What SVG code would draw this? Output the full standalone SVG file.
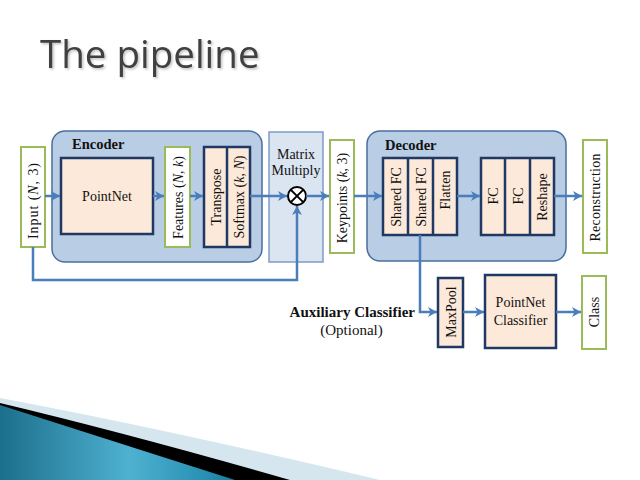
<svg xmlns="http://www.w3.org/2000/svg" width="640" height="480" viewBox="0 0 640 480">
<defs>
<style>
.t{font-family:"Liberation Serif","Times New Roman",serif;font-size:14px;fill:#111}
.tb{font-family:"Liberation Serif","Times New Roman",serif;font-size:14.5px;font-weight:bold;fill:#111}
.lab{font-family:"Liberation Serif","Times New Roman",serif;font-size:15px;fill:#111}
.labb{font-family:"Liberation Serif","Times New Roman",serif;font-size:15px;font-weight:bold;fill:#111}
.grp{fill:#b9cde5;stroke:#4a6fa0;stroke-width:1.5}
.peach{fill:#fde9d9;stroke:#1f3864;stroke-width:2.5}
.green{fill:#ffffff;stroke:#9bbb59;stroke-width:2}
.mm{fill:#dbe5f1;stroke:#7f9cc6;stroke-width:1.5}
.c{fill:none;stroke:#4a7ebb;stroke-width:2.5}
</style>
<marker id="ah" markerUnits="userSpaceOnUse" markerWidth="12" markerHeight="12" refX="10" refY="6" orient="auto">
<path d="M1,1 L10,6 L1,11 L3.5,6 Z" fill="#4a7ebb"/>
</marker>
<linearGradient id="teal" x1="0" y1="0" x2="1" y2="0">
<stop offset="0" stop-color="#1b6f8c"/>
<stop offset="0.55" stop-color="#4fb1d0"/>
<stop offset="0.85" stop-color="#2a93b6"/>
<stop offset="1" stop-color="#197e9f"/>
</linearGradient>
<filter id="sh" x="-5%" y="-20%" width="110%" height="140%">
<feDropShadow dx="1.5" dy="1.5" stdDeviation="0.8" flood-color="#000" flood-opacity="0.25"/>
</filter>
</defs>
<rect width="640" height="480" fill="#ffffff"/>

<g id="swoosh">
<path d="M0,398 Q170,430 380,480 L0,480 Z" fill="#d5e6ef"/>
<path d="M0,403 Q130,434 290,480 L0,480 Z" fill="#000000"/>
<path d="M0,405 Q100,437 235,480 L0,480 Z" fill="url(#teal)"/>
</g>

<text id="title" x="40" y="68" font-family="'Open Sans','DejaVu Sans',sans-serif" font-size="38.5" fill="#404040" filter="url(#sh)">The pipeline</text>

<g id="encoder">
<rect class="grp" x="52" y="131" width="210" height="131" rx="13"/>
<text class="tb" x="72" y="149">Encoder</text>
</g>
<g id="input">
<rect class="green" x="21" y="147" width="24" height="100"/>
<text class="t" transform="translate(33,201) rotate(-90)" y="5" text-anchor="middle" textLength="76">Input (<tspan font-style="italic">N</tspan>, 3)</text>
</g>
<g id="pointnet">
<rect class="peach" x="61" y="158" width="92" height="76"/>
<text class="t" x="107" y="201" text-anchor="middle">PointNet</text>
</g>
<g id="features">
<rect class="green" x="165" y="147" width="25" height="100"/>
<text class="t" transform="translate(177.5,197.5) rotate(-90)" y="5" text-anchor="middle">Features (<tspan font-style="italic">N</tspan>, <tspan font-style="italic">k</tspan>)</text>
</g>
<g id="transpose-softmax">
<rect class="peach" x="204" y="147" width="46" height="100"/>
<line x1="227" y1="147" x2="227" y2="247" stroke="#1f3864" stroke-width="2.5"/>
<text class="t" transform="translate(215.5,197) rotate(-90)" y="5" text-anchor="middle">Transpose</text>
<text class="t" transform="translate(238.5,197) rotate(-90)" y="5" text-anchor="middle">Softmax (<tspan font-style="italic">k</tspan>, <tspan font-style="italic">N</tspan>)</text>
</g>
<g id="matrix-multiply">
<rect class="mm" x="269" y="132" width="54" height="130"/>
<text class="t" x="296" y="159" text-anchor="middle">Matrix</text>
<text class="t" x="296" y="175" text-anchor="middle">Multiply</text>
<circle cx="297" cy="196" r="9" fill="#ffffff" stroke="#000" stroke-width="2"/>
<line x1="290.6" y1="189.6" x2="303.4" y2="202.4" stroke="#000" stroke-width="2"/>
<line x1="303.4" y1="189.6" x2="290.6" y2="202.4" stroke="#000" stroke-width="2"/>
</g>
<g id="keypoints">
<rect class="green" x="330" y="140" width="24" height="113"/>
<text class="t" transform="translate(342,198) rotate(-90)" y="5" text-anchor="middle">Keypoints (<tspan font-style="italic">k</tspan>, 3)</text>
</g>
<g id="decoder">
<rect class="grp" x="367" y="131" width="199" height="130" rx="13"/>
<text class="tb" x="385" y="150">Decoder</text>
</g>
<g id="shared-fc">
<rect class="peach" x="383" y="158" width="74" height="77"/>
<line x1="408" y1="158" x2="408" y2="235" stroke="#1f3864" stroke-width="2.5"/>
<line x1="433" y1="158" x2="433" y2="235" stroke="#1f3864" stroke-width="2.5"/>
<text class="t" transform="translate(395.5,197) rotate(-90)" y="5" text-anchor="middle">Shared FC</text>
<text class="t" transform="translate(420.5,197) rotate(-90)" y="5" text-anchor="middle">Shared FC</text>
<text class="t" transform="translate(445,190) rotate(-90)" y="5" text-anchor="middle">Flatten</text>
</g>
<g id="fc">
<rect class="peach" x="481" y="158" width="73" height="77"/>
<line x1="505" y1="158" x2="505" y2="235" stroke="#1f3864" stroke-width="2.5"/>
<line x1="530" y1="158" x2="530" y2="235" stroke="#1f3864" stroke-width="2.5"/>
<text class="t" transform="translate(493,196) rotate(-90)" y="5" text-anchor="middle">FC</text>
<text class="t" transform="translate(517.5,196) rotate(-90)" y="5" text-anchor="middle">FC</text>
<text class="t" transform="translate(542,197) rotate(-90)" y="5" text-anchor="middle">Reshape</text>
</g>
<g id="reconstruction">
<rect class="green" x="583" y="140" width="24" height="113"/>
<text class="t" transform="translate(595,197.5) rotate(-90)" y="5" text-anchor="middle" textLength="88">Reconstruction</text>
</g>
<g id="maxpool">
<rect class="peach" x="438" y="278" width="25" height="69"/>
<text class="t" transform="translate(450.5,312) rotate(-90)" y="5" text-anchor="middle">MaxPool</text>
</g>
<g id="pointnet-classifier">
<rect class="peach" x="485" y="275" width="71" height="73"/>
<text class="t" x="520.5" y="307" text-anchor="middle">PointNet</text>
<text class="t" x="520.5" y="325" text-anchor="middle">Classifier</text>
</g>
<g id="class">
<rect class="green" x="582" y="276" width="24" height="73"/>
<text class="t" transform="translate(594,312) rotate(-90)" y="5" text-anchor="middle">Class</text>
</g>
<g id="aux-label">
<text class="labb" x="415" y="317" text-anchor="end">Auxiliary Classifier</text>
<text class="lab" x="351.5" y="335" text-anchor="middle">(Optional)</text>
</g>

<g id="connectors">
<path class="c" d="M45,196 L60,196" marker-end="url(#ah)"/>
<path class="c" d="M153,196 L164,196" marker-end="url(#ah)"/>
<path class="c" d="M190,196 L203,196" marker-end="url(#ah)"/>
<path class="c" d="M250,196 L287,196" marker-end="url(#ah)"/>
<path class="c" d="M306,196 L329,196" marker-end="url(#ah)"/>
<path class="c" d="M33,247 L33,280 L297,280 L297,206" marker-end="url(#ah)"/>
<path class="c" d="M354,196 L382,196" marker-end="url(#ah)"/>
<path class="c" d="M457,196 L480,196" marker-end="url(#ah)"/>
<path class="c" d="M554,196 L582,196" marker-end="url(#ah)"/>
<path class="c" d="M420,235 L420,312 L437,312" marker-end="url(#ah)"/>
<path class="c" d="M463,312 L484,312" marker-end="url(#ah)"/>
<path class="c" d="M556,312 L581,312" marker-end="url(#ah)"/>
</g>
</svg>
